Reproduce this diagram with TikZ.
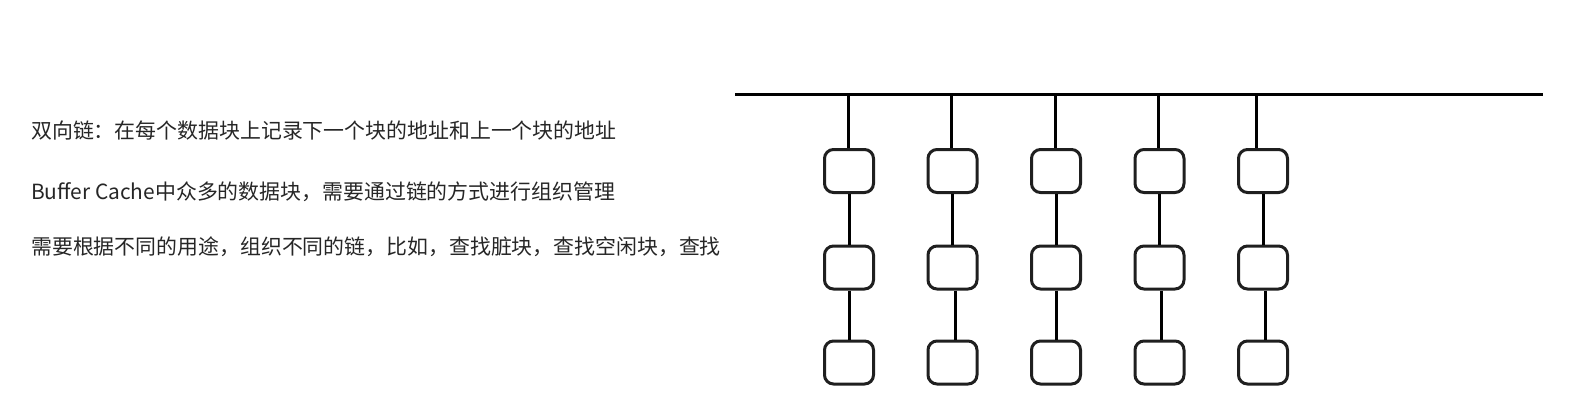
\documentclass[tikz,border=0pt]{standalone}
\usepackage{fontspec}
\newfontfamily\cjk{Noto Sans CJK SC}
\usetikzlibrary{positioning}
\tikzset{
    blk/.style={draw=black!88,line width=3pt,rounded corners=9pt,minimum width=49pt,minimum height=43pt,inner sep=0pt},
    lnk/.style={line width=3pt},
    txt/.style={anchor=west,inner sep=0pt,text=black!85,font=\cjk\fontsize{20.9}{24}\selectfont},
}
\begin{document}
\begin{tikzpicture}[x=1pt,y=-1pt]
\useasboundingbox (0,0) rectangle (1574,418);
\node[txt] (l1) at (31,131) {双向链：在每个数据块上记录下一个块的地址和上一个块的地址};
\node[txt] (l2) at (31,192) {Buffer Cache中众多的数据块，需要通过链的方式进行组织管理};
\node[txt] (l3) at (31,247) {需要根据不同的用途，组织不同的链，比如，查找脏块，查找空闲块，查找};
\coordinate (busL) at (735,94);
\coordinate (busR) at (1543,94);
\draw[lnk] (busL) -- (busR);
% columns: x, offset of the stub, offset of the lower link
\foreach \i/\x/\s/\u in {1/849/-1/0,2/952.5/-1.5/2.5,3/1056/-1/0.5,4/1159.5/-1/1.5,5/1263/-7/2}{
    \node[blk] (a\i) at (\x,171) {};
    \node[blk] (b\i) at (\x,267.5) {};
    \node[blk] (c\i) at (\x,362.5) {};
    \draw[lnk] ([xshift=\s pt]a\i.north |- busL) -- ([xshift=\s pt]a\i.north);
    \draw[lnk] (a\i) -- (b\i);
    \draw[lnk] ([xshift=\u pt]b\i.south) -- ([xshift=\u pt]c\i.north);
}
\end{tikzpicture}
\end{document}
